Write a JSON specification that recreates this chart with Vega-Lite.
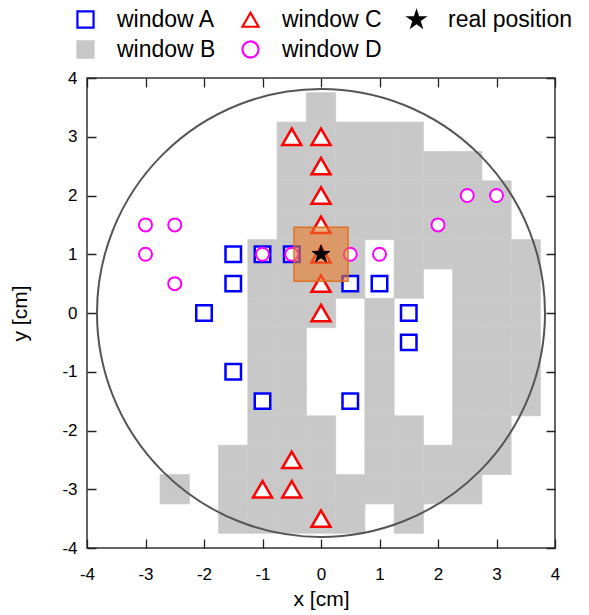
{
  "$schema": "https://vega.github.io/schema/vega-lite/v6.json",
  "width": 468,
  "height": 470,
  "autosize": {"type": "none"},
  "padding": {"left": 87, "top": 78, "right": 34, "bottom": 67},
  "background": "white",
  "datasets": {
    "cells": [
      {"x": 0, "y": 3.5, "series": "window B"},
      {"x": -0.5, "y": 3, "series": "window B"}, {"x": 0, "y": 3, "series": "window B"}, {"x": 0.5, "y": 3, "series": "window B"}, {"x": 1, "y": 3, "series": "window B"}, {"x": 1.5, "y": 3, "series": "window B"},
      {"x": -0.5, "y": 2.5, "series": "window B"}, {"x": 0, "y": 2.5, "series": "window B"}, {"x": 0.5, "y": 2.5, "series": "window B"}, {"x": 1, "y": 2.5, "series": "window B"}, {"x": 1.5, "y": 2.5, "series": "window B"}, {"x": 2, "y": 2.5, "series": "window B"}, {"x": 2.5, "y": 2.5, "series": "window B"},
      {"x": -0.5, "y": 2, "series": "window B"}, {"x": 0, "y": 2, "series": "window B"}, {"x": 0.5, "y": 2, "series": "window B"}, {"x": 1, "y": 2, "series": "window B"}, {"x": 1.5, "y": 2, "series": "window B"}, {"x": 2, "y": 2, "series": "window B"}, {"x": 2.5, "y": 2, "series": "window B"}, {"x": 3, "y": 2, "series": "window B"},
      {"x": -0.5, "y": 1.5, "series": "window B"}, {"x": 0, "y": 1.5, "series": "window B"}, {"x": 0.5, "y": 1.5, "series": "window B"}, {"x": 1, "y": 1.5, "series": "window B"}, {"x": 1.5, "y": 1.5, "series": "window B"}, {"x": 2, "y": 1.5, "series": "window B"}, {"x": 2.5, "y": 1.5, "series": "window B"}, {"x": 3, "y": 1.5, "series": "window B"},
      {"x": -1, "y": 1, "series": "window B"}, {"x": -0.5, "y": 1, "series": "window B"}, {"x": 0, "y": 1, "series": "window B"}, {"x": 0.5, "y": 1, "series": "window B"}, {"x": 1.5, "y": 1, "series": "window B"}, {"x": 2, "y": 1, "series": "window B"}, {"x": 2.5, "y": 1, "series": "window B"}, {"x": 3, "y": 1, "series": "window B"}, {"x": 3.5, "y": 1, "series": "window B"},
      {"x": -1, "y": 0.5, "series": "window B"}, {"x": -0.5, "y": 0.5, "series": "window B"}, {"x": 0, "y": 0.5, "series": "window B"}, {"x": 0.5, "y": 0.5, "series": "window B"}, {"x": 1.5, "y": 0.5, "series": "window B"}, {"x": 2.5, "y": 0.5, "series": "window B"}, {"x": 3, "y": 0.5, "series": "window B"}, {"x": 3.5, "y": 0.5, "series": "window B"},
      {"x": -1, "y": 0, "series": "window B"}, {"x": -0.5, "y": 0, "series": "window B"}, {"x": 0, "y": 0, "series": "window B"}, {"x": 1, "y": 0, "series": "window B"}, {"x": 2.5, "y": 0, "series": "window B"}, {"x": 3, "y": 0, "series": "window B"}, {"x": 3.5, "y": 0, "series": "window B"},
      {"x": -1, "y": -0.5, "series": "window B"}, {"x": -0.5, "y": -0.5, "series": "window B"}, {"x": 1, "y": -0.5, "series": "window B"}, {"x": 2.5, "y": -0.5, "series": "window B"}, {"x": 3, "y": -0.5, "series": "window B"}, {"x": 3.5, "y": -0.5, "series": "window B"},
      {"x": -1, "y": -1, "series": "window B"}, {"x": -0.5, "y": -1, "series": "window B"}, {"x": 1, "y": -1, "series": "window B"}, {"x": 2.5, "y": -1, "series": "window B"}, {"x": 3, "y": -1, "series": "window B"}, {"x": 3.5, "y": -1, "series": "window B"},
      {"x": -1, "y": -1.5, "series": "window B"}, {"x": -0.5, "y": -1.5, "series": "window B"}, {"x": 1, "y": -1.5, "series": "window B"}, {"x": 2.5, "y": -1.5, "series": "window B"}, {"x": 3, "y": -1.5, "series": "window B"}, {"x": 3.5, "y": -1.5, "series": "window B"},
      {"x": -1, "y": -2, "series": "window B"}, {"x": -0.5, "y": -2, "series": "window B"}, {"x": 0, "y": -2, "series": "window B"}, {"x": 1, "y": -2, "series": "window B"}, {"x": 1.5, "y": -2, "series": "window B"}, {"x": 2.5, "y": -2, "series": "window B"}, {"x": 3, "y": -2, "series": "window B"},
      {"x": -1.5, "y": -2.5, "series": "window B"}, {"x": -1, "y": -2.5, "series": "window B"}, {"x": -0.5, "y": -2.5, "series": "window B"}, {"x": 0, "y": -2.5, "series": "window B"}, {"x": 1, "y": -2.5, "series": "window B"}, {"x": 1.5, "y": -2.5, "series": "window B"}, {"x": 2, "y": -2.5, "series": "window B"}, {"x": 2.5, "y": -2.5, "series": "window B"}, {"x": 3, "y": -2.5, "series": "window B"},
      {"x": -2.5, "y": -3, "series": "window B"}, {"x": -1.5, "y": -3, "series": "window B"}, {"x": -1, "y": -3, "series": "window B"}, {"x": -0.5, "y": -3, "series": "window B"}, {"x": 0, "y": -3, "series": "window B"}, {"x": 0.5, "y": -3, "series": "window B"}, {"x": 1, "y": -3, "series": "window B"}, {"x": 1.5, "y": -3, "series": "window B"}, {"x": 2, "y": -3, "series": "window B"}, {"x": 2.5, "y": -3, "series": "window B"},
      {"x": -1.5, "y": -3.5, "series": "window B"}, {"x": -1, "y": -3.5, "series": "window B"}, {"x": -0.5, "y": -3.5, "series": "window B"}, {"x": 0, "y": -3.5, "series": "window B"}, {"x": 0.5, "y": -3.5, "series": "window B"}, {"x": 1.5, "y": -3.5, "series": "window B"}
    ],
    "winA": [
      {"x": -1.5, "y": 1, "series": "window A"}, {"x": -1, "y": 1, "series": "window A"}, {"x": -0.5, "y": 1, "series": "window A"},
      {"x": -1.5, "y": 0.5, "series": "window A"}, {"x": -2, "y": 0, "series": "window A"}, {"x": -1.5, "y": -1, "series": "window A"},
      {"x": -1, "y": -1.5, "series": "window A"}, {"x": 0.5, "y": 0.5, "series": "window A"}, {"x": 1, "y": 0.5, "series": "window A"},
      {"x": 1.5, "y": 0, "series": "window A"}, {"x": 1.5, "y": -0.5, "series": "window A"}, {"x": 0.5, "y": -1.5, "series": "window A"}
    ],
    "winC": [
      {"x": -0.5, "y": 3, "series": "window C"}, {"x": 0, "y": 3, "series": "window C"}, {"x": 0, "y": 2.5, "series": "window C"},
      {"x": 0, "y": 2, "series": "window C"}, {"x": 0, "y": 1.5, "series": "window C"}, {"x": 0, "y": 1, "series": "window C"},
      {"x": 0, "y": 0.5, "series": "window C"}, {"x": 0, "y": 0, "series": "window C"}, {"x": -0.5, "y": -2.5, "series": "window C"},
      {"x": -1, "y": -3, "series": "window C"}, {"x": -0.5, "y": -3, "series": "window C"}, {"x": 0, "y": -3.5, "series": "window C"}
    ],
    "winD": [
      {"x": -3, "y": 1.5, "series": "window D"}, {"x": -2.5, "y": 1.5, "series": "window D"}, {"x": -3, "y": 1, "series": "window D"},
      {"x": -2.5, "y": 0.5, "series": "window D"}, {"x": -1, "y": 1, "series": "window D"}, {"x": -0.5, "y": 1, "series": "window D"},
      {"x": 0.5, "y": 1, "series": "window D"}, {"x": 1, "y": 1, "series": "window D"}, {"x": 2, "y": 1.5, "series": "window D"},
      {"x": 2.5, "y": 2, "series": "window D"}, {"x": 3, "y": 2, "series": "window D"}
    ],
    "real": [{"x": 0, "y": 1, "series": "real position"}],
    "box": [{"x": 0, "y": 1}],
    "ring": [{"x": 0, "y": 0}]
  },
  "layer": [
    {
      "data": {"name": "cells"},
      "mark": {"type": "point", "filled": true, "size": 860, "strokeWidth": 0.7, "opacity": 1},
      "encoding": {
        "x": {"field": "x", "type": "quantitative", "scale": {"domain": [-4, 4], "nice": false, "zero": false},
          "axis": {"orient": "bottom", "values": [-4, -3.5, -3, -2.5, -2, -1.5, -1, -0.5, 0, 0.5, 1, 1.5, 2, 2.5, 3, 3.5, 4], "ticks": false, "domain": false,
            "grid": true, "gridColor": "#222222", "gridOpacity": 1, "gridWidth": 1.3,
            "gridDash": {"condition": {"test": "datum.value % 1 !== 0", "value": [5, 460, 5]}, "value": [9, 452, 9]},
            "labelExpr": "datum.value % 1 === 0 ? '' + datum.value : ''", "labelFlush": false, "labelOverlap": false, "labelFontSize": 17, "labelFont": "Liberation Sans", "labelColor": "#000", "labelPadding": 18,
            "title": "x [cm]", "titleFontSize": 21, "titleFont": "Liberation Sans", "titleFontWeight": "normal", "titleColor": "#000", "titlePadding": 6}},
        "y": {"field": "y", "type": "quantitative", "scale": {"domain": [-4, 4], "nice": false, "zero": false},
          "axis": {"orient": "left", "values": [-4, -3.5, -3, -2.5, -2, -1.5, -1, -0.5, 0, 0.5, 1, 1.5, 2, 2.5, 3, 3.5, 4], "ticks": false, "domain": false,
            "grid": true, "gridColor": "#222222", "gridOpacity": 1, "gridWidth": 1.3,
            "gridDash": {"condition": {"test": "datum.value % 1 !== 0", "value": [5, 458, 5]}, "value": [9, 450, 9]},
            "labelExpr": "datum.value % 1 === 0 ? '' + datum.value : ''", "labelFlush": false, "labelOverlap": false, "labelFontSize": 17, "labelFont": "Liberation Sans", "labelColor": "#000", "labelPadding": 10,
            "title": "y [cm]", "titleFontSize": 21, "titleFont": "Liberation Sans", "titleFontWeight": "normal", "titleColor": "#000", "titlePadding": 31}},
        "stroke": {"field": "series", "type": "nominal", "scale": {"domain": ["window A", "window C", "real position", "window B", "window D"], "range": ["#0000ff", "#ff0000", "#000000", "#c8c8c8", "#ff00ff"]}, "legend": {"title": null, "orient": "none", "legendX": -13, "legendY": -70, "columns": 3, "direction": "horizontal"}},
        "fill": {"field": "series", "type": "nominal", "scale": {"domain": ["window A", "window C", "real position", "window B", "window D"], "range": ["#ffffff", "#ffffff", "#000000", "#c8c8c8", "#ffffff"]}, "legend": {"title": null, "orient": "none", "legendX": -13, "legendY": -70, "columns": 3, "direction": "horizontal"}},
        "shape": {"field": "series", "type": "nominal", "scale": {"domain": ["window A", "window C", "real position", "window B", "window D"], "range": ["square", "triangle-up", "M0,-1L0.2245,-0.309L0.9511,-0.309L0.3633,0.118L0.5878,0.809L0,0.382L-0.5878,0.809L-0.3633,0.118L-0.9511,-0.309L-0.2245,-0.309Z", "square", "circle"]}, "legend": {"title": null, "orient": "none", "legendX": -13, "legendY": -70, "columns": 3, "direction": "horizontal"}}
      }
    },
    {
      "data": {"name": "ring"},
      "mark": {"type": "point", "shape": "circle", "filled": false, "size": 200704, "stroke": "#555555", "strokeWidth": 2, "opacity": 1},
      "encoding": {
        "x": {"field": "x", "type": "quantitative", "scale": {"domain": [-4, 4], "nice": false, "zero": false}},
        "y": {"field": "y", "type": "quantitative", "scale": {"domain": [-4, 4], "nice": false, "zero": false}}
      }
    },
    {
      "data": {"name": "winA"},
      "mark": {"type": "point", "filled": true, "size": 240, "strokeWidth": 2.5, "opacity": 1},
      "encoding": {
        "x": {"field": "x", "type": "quantitative", "scale": {"domain": [-4, 4], "nice": false, "zero": false}},
        "y": {"field": "y", "type": "quantitative", "scale": {"domain": [-4, 4], "nice": false, "zero": false}},
        "stroke": {"field": "series", "type": "nominal", "scale": {"domain": ["window A", "window C", "real position", "window B", "window D"], "range": ["#0000ff", "#ff0000", "#000000", "#c8c8c8", "#ff00ff"]}, "legend": {"title": null, "orient": "none", "legendX": -13, "legendY": -70, "columns": 3, "direction": "horizontal"}},
        "fill": {"field": "series", "type": "nominal", "scale": {"domain": ["window A", "window C", "real position", "window B", "window D"], "range": ["#ffffff", "#ffffff", "#000000", "#c8c8c8", "#ffffff"]}, "legend": {"title": null, "orient": "none", "legendX": -13, "legendY": -70, "columns": 3, "direction": "horizontal"}},
        "shape": {"field": "series", "type": "nominal", "scale": {"domain": ["window A", "window C", "real position", "window B", "window D"], "range": ["square", "triangle-up", "M0,-1L0.2245,-0.309L0.9511,-0.309L0.3633,0.118L0.5878,0.809L0,0.382L-0.5878,0.809L-0.3633,0.118L-0.9511,-0.309L-0.2245,-0.309Z", "square", "circle"]}, "legend": {"title": null, "orient": "none", "legendX": -13, "legendY": -70, "columns": 3, "direction": "horizontal"}}
      }
    },
    {
      "data": {"name": "winC"},
      "mark": {"type": "point", "filled": true, "size": 361, "strokeWidth": 2.5, "opacity": 1},
      "encoding": {
        "x": {"field": "x", "type": "quantitative", "scale": {"domain": [-4, 4], "nice": false, "zero": false}},
        "y": {"field": "y", "type": "quantitative", "scale": {"domain": [-4, 4], "nice": false, "zero": false}},
        "stroke": {"field": "series", "type": "nominal", "scale": {"domain": ["window A", "window C", "real position", "window B", "window D"], "range": ["#0000ff", "#ff0000", "#000000", "#c8c8c8", "#ff00ff"]}, "legend": {"title": null, "orient": "none", "legendX": -13, "legendY": -70, "columns": 3, "direction": "horizontal"}},
        "fill": {"field": "series", "type": "nominal", "scale": {"domain": ["window A", "window C", "real position", "window B", "window D"], "range": ["#ffffff", "#ffffff", "#000000", "#c8c8c8", "#ffffff"]}, "legend": {"title": null, "orient": "none", "legendX": -13, "legendY": -70, "columns": 3, "direction": "horizontal"}},
        "shape": {"field": "series", "type": "nominal", "scale": {"domain": ["window A", "window C", "real position", "window B", "window D"], "range": ["square", "triangle-up", "M0,-1L0.2245,-0.309L0.9511,-0.309L0.3633,0.118L0.5878,0.809L0,0.382L-0.5878,0.809L-0.3633,0.118L-0.9511,-0.309L-0.2245,-0.309Z", "square", "circle"]}, "legend": {"title": null, "orient": "none", "legendX": -13, "legendY": -70, "columns": 3, "direction": "horizontal"}}
      }
    },
    {
      "data": {"name": "winD"},
      "mark": {"type": "point", "filled": true, "size": 169, "strokeWidth": 2, "opacity": 1},
      "encoding": {
        "x": {"field": "x", "type": "quantitative", "scale": {"domain": [-4, 4], "nice": false, "zero": false}},
        "y": {"field": "y", "type": "quantitative", "scale": {"domain": [-4, 4], "nice": false, "zero": false}},
        "stroke": {"field": "series", "type": "nominal", "scale": {"domain": ["window A", "window C", "real position", "window B", "window D"], "range": ["#0000ff", "#ff0000", "#000000", "#c8c8c8", "#ff00ff"]}, "legend": {"title": null, "orient": "none", "legendX": -13, "legendY": -70, "columns": 3, "direction": "horizontal"}},
        "fill": {"field": "series", "type": "nominal", "scale": {"domain": ["window A", "window C", "real position", "window B", "window D"], "range": ["#ffffff", "#ffffff", "#000000", "#c8c8c8", "#ffffff"]}, "legend": {"title": null, "orient": "none", "legendX": -13, "legendY": -70, "columns": 3, "direction": "horizontal"}},
        "shape": {"field": "series", "type": "nominal", "scale": {"domain": ["window A", "window C", "real position", "window B", "window D"], "range": ["square", "triangle-up", "M0,-1L0.2245,-0.309L0.9511,-0.309L0.3633,0.118L0.5878,0.809L0,0.382L-0.5878,0.809L-0.3633,0.118L-0.9511,-0.309L-0.2245,-0.309Z", "square", "circle"]}, "legend": {"title": null, "orient": "none", "legendX": -13, "legendY": -70, "columns": 3, "direction": "horizontal"}}
      }
    },
    {
      "data": {"name": "box"},
      "mark": {"type": "point", "shape": "square", "filled": true, "size": 2916, "fill": "#e8782a", "fillOpacity": 0.6, "stroke": "#e06a18", "strokeWidth": 1.5, "strokeOpacity": 0.9, "opacity": 1},
      "encoding": {
        "x": {"field": "x", "type": "quantitative", "scale": {"domain": [-4, 4], "nice": false, "zero": false}},
        "y": {"field": "y", "type": "quantitative", "scale": {"domain": [-4, 4], "nice": false, "zero": false}}
      }
    },
    {
      "data": {"name": "real"},
      "mark": {"type": "point", "filled": true, "size": 340, "strokeWidth": 1, "opacity": 1},
      "encoding": {
        "x": {"field": "x", "type": "quantitative", "scale": {"domain": [-4, 4], "nice": false, "zero": false}},
        "y": {"field": "y", "type": "quantitative", "scale": {"domain": [-4, 4], "nice": false, "zero": false}},
        "stroke": {"field": "series", "type": "nominal", "scale": {"domain": ["window A", "window C", "real position", "window B", "window D"], "range": ["#0000ff", "#ff0000", "#000000", "#c8c8c8", "#ff00ff"]}, "legend": {"title": null, "orient": "none", "legendX": -13, "legendY": -70, "columns": 3, "direction": "horizontal"}},
        "fill": {"field": "series", "type": "nominal", "scale": {"domain": ["window A", "window C", "real position", "window B", "window D"], "range": ["#ffffff", "#ffffff", "#000000", "#c8c8c8", "#ffffff"]}, "legend": {"title": null, "orient": "none", "legendX": -13, "legendY": -70, "columns": 3, "direction": "horizontal"}},
        "shape": {"field": "series", "type": "nominal", "scale": {"domain": ["window A", "window C", "real position", "window B", "window D"], "range": ["square", "triangle-up", "M0,-1L0.2245,-0.309L0.9511,-0.309L0.3633,0.118L0.5878,0.809L0,0.382L-0.5878,0.809L-0.3633,0.118L-0.9511,-0.309L-0.2245,-0.309Z", "square", "circle"]}, "legend": {"title": null, "orient": "none", "legendX": -13, "legendY": -70, "columns": 3, "direction": "horizontal"}}
      }
    }
  ],
  "config": {
    "view": {"stroke": "#333333", "strokeWidth": 1.5},
    "legend": {"labelFontSize": 23, "labelFont": "Liberation Sans", "labelColor": "#000", "symbolSize": 260, "symbolStrokeWidth": 2.2, "labelOffset": 20, "columnPadding": 22, "rowPadding": 5, "padding": 0, "labelLimit": 300}
  }
}
